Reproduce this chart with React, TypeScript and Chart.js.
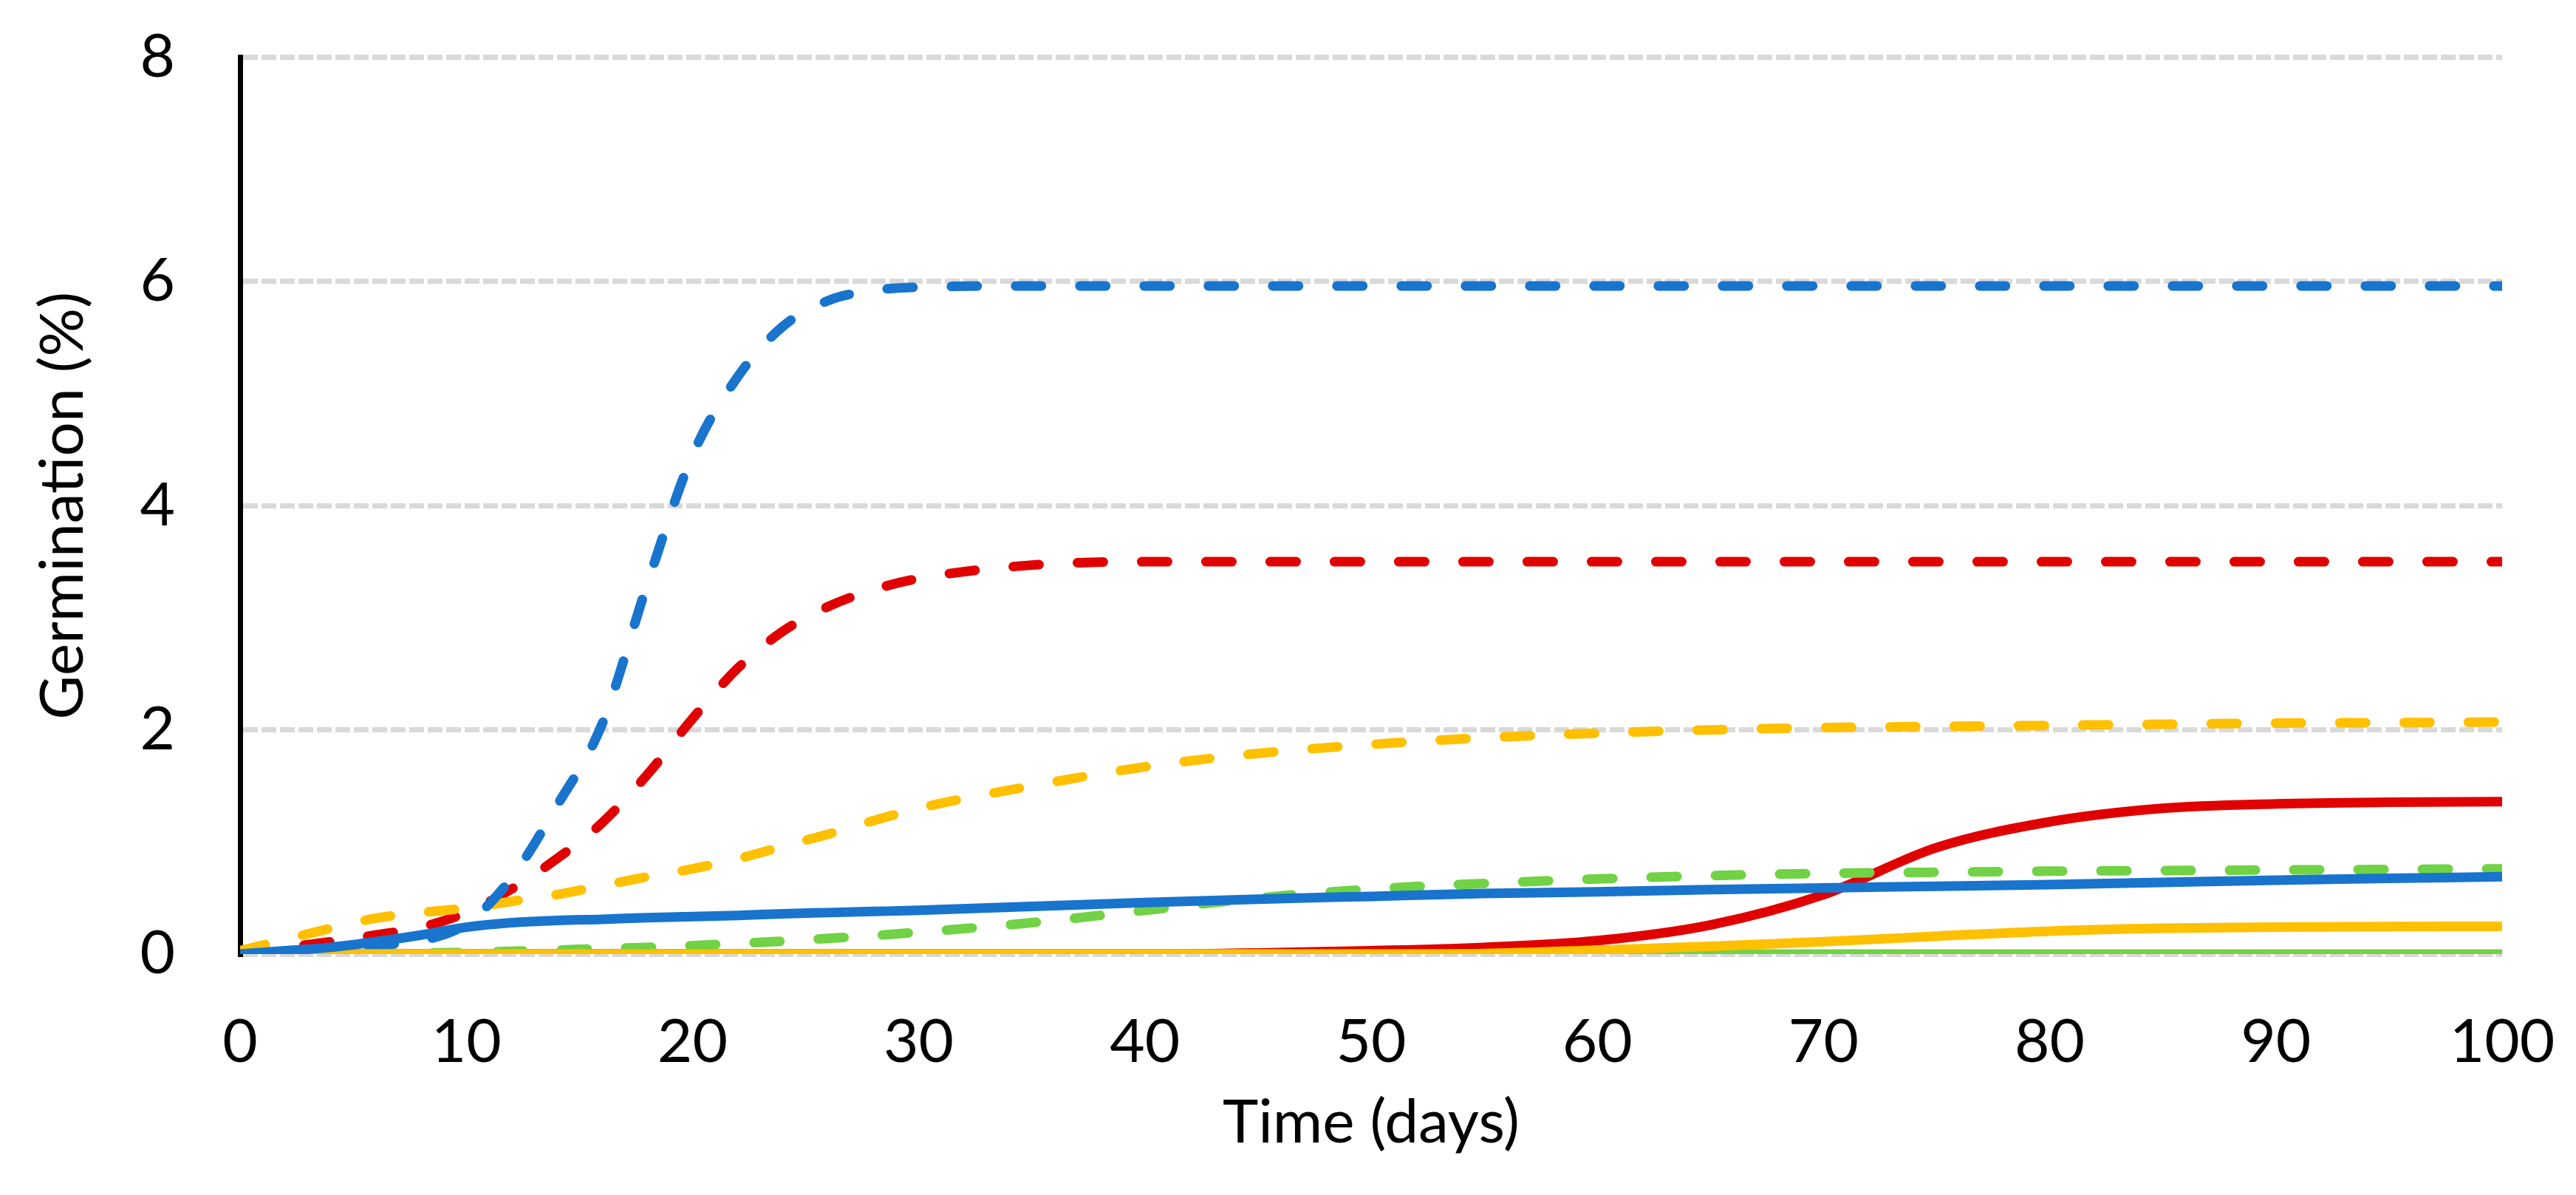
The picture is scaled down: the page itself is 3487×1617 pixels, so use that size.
import React, { useEffect, useRef } from 'react';
import { Chart, registerables } from 'chart.js';

Chart.register(...registerables);

// ---- data ----
const days = [0, 2, 4, 6, 8, 10, 12, 14, 16, 18, 20, 22, 24, 26, 28, 30, 35, 40, 45, 50, 55, 60, 65, 70, 75, 80, 85, 90, 95, 100];

const blueSolid = [0, 0.03, 0.06, 0.11, 0.17, 0.24, 0.28, 0.3, 0.31, 0.325, 0.335, 0.345, 0.36, 0.37, 0.38, 0.39, 0.425, 0.46, 0.49, 0.515, 0.54, 0.555, 0.575, 0.59, 0.605, 0.62, 0.64, 0.66, 0.675, 0.69];
const yellowSolid = [0, 0, 0, 0, 0, 0, 0, 0, 0, 0, 0, 0, 0, 0, 0, 0, 0, 0, 0, 0, 0.005, 0.035, 0.07, 0.11, 0.16, 0.205, 0.23, 0.24, 0.245, 0.248];
const greenSolid = [0, 0, 0, 0, 0, 0, 0, 0, 0, 0, 0, 0, 0, 0, 0, 0, 0, 0, 0, 0, 0, 0, 0, 0, 0, 0, 0, 0, 0, 0];
const redSolid = [0, 0, 0, 0, 0, 0, 0, 0, 0, 0, 0, 0, 0, 0, 0, 0, 0, 0, 0.01, 0.03, 0.06, 0.12, 0.26, 0.53, 0.95, 1.18, 1.3, 1.34, 1.355, 1.36];
const blueDashed = [0, 0.02, 0.05, 0.08, 0.12, 0.27, 0.68, 1.32, 2.05, 3.3, 4.45, 5.15, 5.6, 5.83, 5.92, 5.95, 5.96, 5.96, 5.96, 5.96, 5.96, 5.96, 5.96, 5.96, 5.96, 5.96, 5.96, 5.96, 5.96, 5.96];
const yellowDashed = [0.03, 0.13, 0.23, 0.32, 0.37, 0.41, 0.47, 0.53, 0.61, 0.69, 0.76, 0.85, 0.96, 1.07, 1.19, 1.3, 1.5, 1.67, 1.79, 1.87, 1.93, 1.97, 2.0, 2.02, 2.03, 2.04, 2.05, 2.06, 2.065, 2.07];
const redDashed = [0.02, 0.06, 0.11, 0.17, 0.24, 0.37, 0.58, 0.85, 1.17, 1.6, 2.1, 2.55, 2.88, 3.1, 3.25, 3.35, 3.47, 3.5, 3.5, 3.5, 3.5, 3.5, 3.5, 3.5, 3.5, 3.5, 3.5, 3.5, 3.5, 3.5];
const greenDashed = [0, 0, 0, 0.005, 0.01, 0.015, 0.025, 0.035, 0.05, 0.06, 0.075, 0.095, 0.115, 0.14, 0.165, 0.195, 0.28, 0.39, 0.5, 0.58, 0.63, 0.67, 0.7, 0.72, 0.73, 0.74, 0.745, 0.75, 0.755, 0.76];

const xTicks = [0, 10, 20, 30, 40, 50, 60, 70, 80, 90, 100];
const yTicks = [0, 2, 4, 6, 8];

const xTitle = 'Time (days)';
const yTitle = 'Germination (%)';

// ---- styles ----
const BLUE = '#1874cd';
const RED = '#e00000';
const YELLOW = '#ffc000';
const GREEN = '#70d244';
const FONT = 'Lato';
const FONT_SIZE = 82;
const W = 3487;
const H = 1617;

function pts(values: number[]) {
  return values.map((v, i) => ({ x: days[i], y: v }));
}

function ds(label: string, values: number[], color: string, dashed: boolean) {
  return {
    label,
    data: pts(values),
    borderColor: color,
    backgroundColor: color,
    borderWidth: 13,
    borderDash: dashed ? [35, 52] : [],
    borderCapStyle: dashed ? 'round' : 'butt',
    borderJoinStyle: 'round',
    pointRadius: 0,
    pointHoverRadius: 0,
    fill: false,
    cubicInterpolationMode: 'monotone',
  } as any;
}

export default function App() {
  const ref = useRef<HTMLCanvasElement | null>(null);

  useEffect(() => {
    if (!ref.current) return;
    const chart = new Chart(ref.current, {
      type: 'line',
      data: {
        datasets: [
          ds('Blue solid', blueSolid, BLUE, false),
          ds('Yellow solid', yellowSolid, YELLOW, false),
          ds('Green solid', greenSolid, GREEN, false),
          ds('Blue dashed', blueDashed, BLUE, true),
          ds('Yellow dashed', yellowDashed, YELLOW, true),
          ds('Red dashed', redDashed, RED, true),
          ds('Green dashed', greenDashed, GREEN, true),
          ds('Red solid', redSolid, RED, false),
        ],
      },
      options: {
        animation: false,
        responsive: false,
        devicePixelRatio: 1,
        events: [],
        layout: { padding: { left: 0, top: 77.5, right: 100, bottom: 0 } },
        plugins: {
          legend: { display: false },
          tooltip: { enabled: false },
        },
        scales: {
          x: {
            type: 'linear',
            min: 0,
            max: 100,
            afterBuildTicks: (scale: any) => {
              scale.ticks = xTicks.map((v) => ({ value: v }));
            },
            afterFit: (scale: any) => {
              scale.height = 326;
              scale.paddingLeft = 0;
              scale.paddingRight = 0;
            },
            grid: { display: false },
            border: { display: false },
            ticks: {
              color: '#000',
              font: { family: FONT, size: FONT_SIZE },
              padding: 62,
              maxRotation: 0,
              autoSkip: false,
            },
            title: {
              display: true,
              text: xTitle,
              color: '#000',
              font: { family: FONT, size: FONT_SIZE },
              padding: { top: 0, bottom: 48 },
            },
          },
          y: {
            type: 'linear',
            min: 0,
            max: 8,
            afterBuildTicks: (scale: any) => {
              scale.ticks = yTicks.map((v) => ({ value: v }));
            },
            afterFit: (scale: any) => {
              scale.width = 325;
              scale.paddingTop = 0;
              scale.paddingBottom = 0;
            },
            grid: {
              display: true,
              color: '#d9d9d9',
              lineWidth: 7,
              drawTicks: false,
            },
            border: { display: true, color: '#000', width: 7, dash: [20, 5] },
            ticks: {
              color: '#000',
              font: { family: FONT, size: FONT_SIZE },
              padding: 88,
              autoSkip: false,
            },
            title: {
              display: true,
              text: yTitle,
              color: '#000',
              font: { family: FONT, size: FONT_SIZE },
              padding: { top: 36, bottom: 0 },
            },
          },
        },
      } as any,
    });
    return () => chart.destroy();
  }, []);

  return (
    <div style={{ position: 'fixed', left: 0, top: 0, width: W, height: H, background: '#fff' }}>
      <canvas ref={ref} width={W} height={H} style={{ width: W, height: H, display: 'block' }} />
    </div>
  );
}
